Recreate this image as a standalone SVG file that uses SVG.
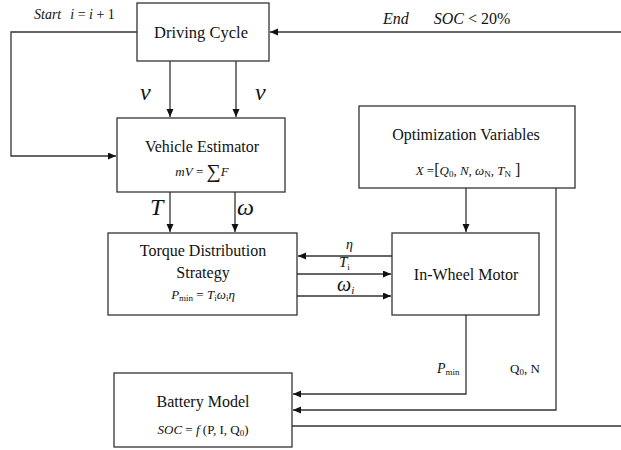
<svg xmlns="http://www.w3.org/2000/svg" width="621" height="450" viewBox="0 0 621 450" font-family="'Liberation Serif', 'DejaVu Serif', 'Times New Roman', serif">
  <style>
    .box { fill: #ffffff; stroke: #333333; stroke-width: 1.3; }
    .wire { fill: none; stroke: #333333; stroke-width: 1.3; }
    text { font-family: 'Liberation Serif', 'DejaVu Serif', 'Times New Roman', serif; fill: #111111; }
    .title { font-size: 16px; text-anchor: middle; }
    .it { font-style: italic; }
    .sub { font-size: 9px; font-style: normal; }
  </style>
  <defs>
    <marker id="arrow" markerUnits="userSpaceOnUse" markerWidth="9" markerHeight="8" refX="8" refY="3.5" orient="auto">
      <path d="M0,0 L8,3.5 L0,7 Z" fill="#111111"/>
    </marker>
  </defs>

  <rect width="621" height="450" fill="#ffffff"/>

  <!-- connectors -->
  <g id="connectors">
    <!-- loop back from driving cycle into the estimator -->
    <polyline class="wire" points="137,32 11,32 11,156 116,156" marker-end="url(#arrow)"/>
    <!-- end condition feeding driving cycle -->
    <line class="wire" x1="621" y1="32" x2="270" y2="32" marker-end="url(#arrow)"/>
    <!-- v signals -->
    <line class="wire" x1="170" y1="61" x2="170" y2="117" marker-end="url(#arrow)"/>
    <line class="wire" x1="236" y1="61" x2="236" y2="117" marker-end="url(#arrow)"/>
    <!-- T and omega -->
    <line class="wire" x1="170" y1="192" x2="170" y2="232" marker-end="url(#arrow)"/>
    <line class="wire" x1="235" y1="192" x2="235" y2="232" marker-end="url(#arrow)"/>
    <!-- optimization to motor -->
    <line class="wire" x1="466" y1="188" x2="466" y2="232" marker-end="url(#arrow)"/>
    <!-- motor <-> torque distribution -->
    <line class="wire" x1="392" y1="256" x2="298" y2="256" marker-end="url(#arrow)"/>
    <line class="wire" x1="297" y1="274" x2="391" y2="274" marker-end="url(#arrow)"/>
    <line class="wire" x1="297" y1="296" x2="391" y2="296" marker-end="url(#arrow)"/>
    <!-- Pmin to battery -->
    <polyline class="wire" points="466,315 466,394 293,394" marker-end="url(#arrow)"/>
    <!-- Q0, N to battery -->
    <polyline class="wire" points="556,188 556,410 293,410" marker-end="url(#arrow)"/>
    <!-- SOC output -->
    <line class="wire" x1="292" y1="426" x2="621" y2="426"/>
  </g>

  <!-- nodes -->
  <g id="driving-cycle">
    <rect class="box" x="137" y="3" width="132" height="58"/>
    <text class="title" x="201" y="38" style="font-size:16.5px">Driving Cycle</text>
  </g>

  <g id="vehicle-estimator">
    <rect class="box" x="117" y="118" width="168" height="74"/>
    <text class="title" x="202" y="152">Vehicle Estimator</text>
    <text x="202" y="176" text-anchor="middle" font-size="13"><tspan class="it">mV</tspan> = <tspan font-size="20" dy="2">∑</tspan><tspan class="it" dy="-2">F</tspan></text>
  </g>

  <g id="optimization-variables">
    <rect class="box" x="359" y="106" width="216" height="82"/>
    <text class="title" x="466" y="140">Optimization Variables</text>
    <text x="468" y="175" text-anchor="middle" font-size="13"><tspan class="it">X</tspan> =<tspan font-size="16">[</tspan><tspan class="it">Q</tspan><tspan class="sub" dy="2">0</tspan><tspan dy="-2">, </tspan><tspan class="it">N</tspan>, <tspan class="it">ω</tspan><tspan class="sub it" dy="2">N</tspan><tspan dy="-2">, </tspan><tspan class="it">T</tspan><tspan class="sub it" dy="2">N</tspan><tspan dy="-2" font-size="16"> ]</tspan></text>
  </g>

  <g id="torque-distribution">
    <rect class="box" x="108" y="233" width="189" height="82"/>
    <text class="title" x="203" y="256">Torque Distribution</text>
    <text class="title" x="203" y="278">Strategy</text>
    <text x="203" y="299" text-anchor="middle" font-size="13"><tspan class="it">P</tspan><tspan class="sub" dy="2">min</tspan><tspan dy="-2"> = </tspan><tspan class="it">T</tspan><tspan class="sub it" dy="2">i</tspan><tspan class="it" dy="-2">ω</tspan><tspan class="sub it" dy="2">i</tspan><tspan class="it" dy="-2">η</tspan></text>
  </g>

  <g id="in-wheel-motor">
    <rect class="box" x="392" y="233" width="147" height="82"/>
    <text class="title" x="466" y="280">In-Wheel Motor</text>
  </g>

  <g id="battery-model">
    <rect class="box" x="114" y="373" width="178" height="74"/>
    <text class="title" x="203" y="407">Battery Model</text>
    <text x="203" y="434" text-anchor="middle" font-size="13"><tspan class="it">SOC</tspan> = <tspan class="it">f</tspan> (P, I, Q<tspan class="sub" dy="2">0</tspan><tspan dy="-2">)</tspan></text>
  </g>

  <!-- connector labels -->
  <g id="labels">
    <text x="34" y="19" font-size="14"><tspan class="it">Start</tspan><tspan dx="9" class="it">i</tspan> = <tspan class="it">i</tspan> + 1</text>
    <text x="383" y="24" font-size="16"><tspan class="it">End</tspan><tspan dx="25" class="it">SOC</tspan> &lt; 20%</text>
    <text class="it" x="140" y="100" font-size="24">v</text>
    <text class="it" x="255" y="100" font-size="24">v</text>
    <text class="it" x="150" y="215" font-size="24">T</text>
    <text class="it" x="237" y="215" font-size="24">ω</text>
    <text class="it" x="346" y="249" font-size="14">η</text>
    <text x="339" y="267" font-size="15"><tspan class="it">T</tspan><tspan class="sub it" dy="3">i</tspan></text>
    <text x="337" y="291" font-size="20"><tspan class="it">ω</tspan><tspan class="it" font-size="11" dy="3">i</tspan></text>
    <text x="437" y="373" font-size="14"><tspan class="it">P</tspan><tspan class="sub" dy="2">min</tspan></text>
    <text x="510" y="373" font-size="13">Q<tspan class="sub" dy="2">0</tspan><tspan dy="-2">, N</tspan></text>
  </g>
</svg>
